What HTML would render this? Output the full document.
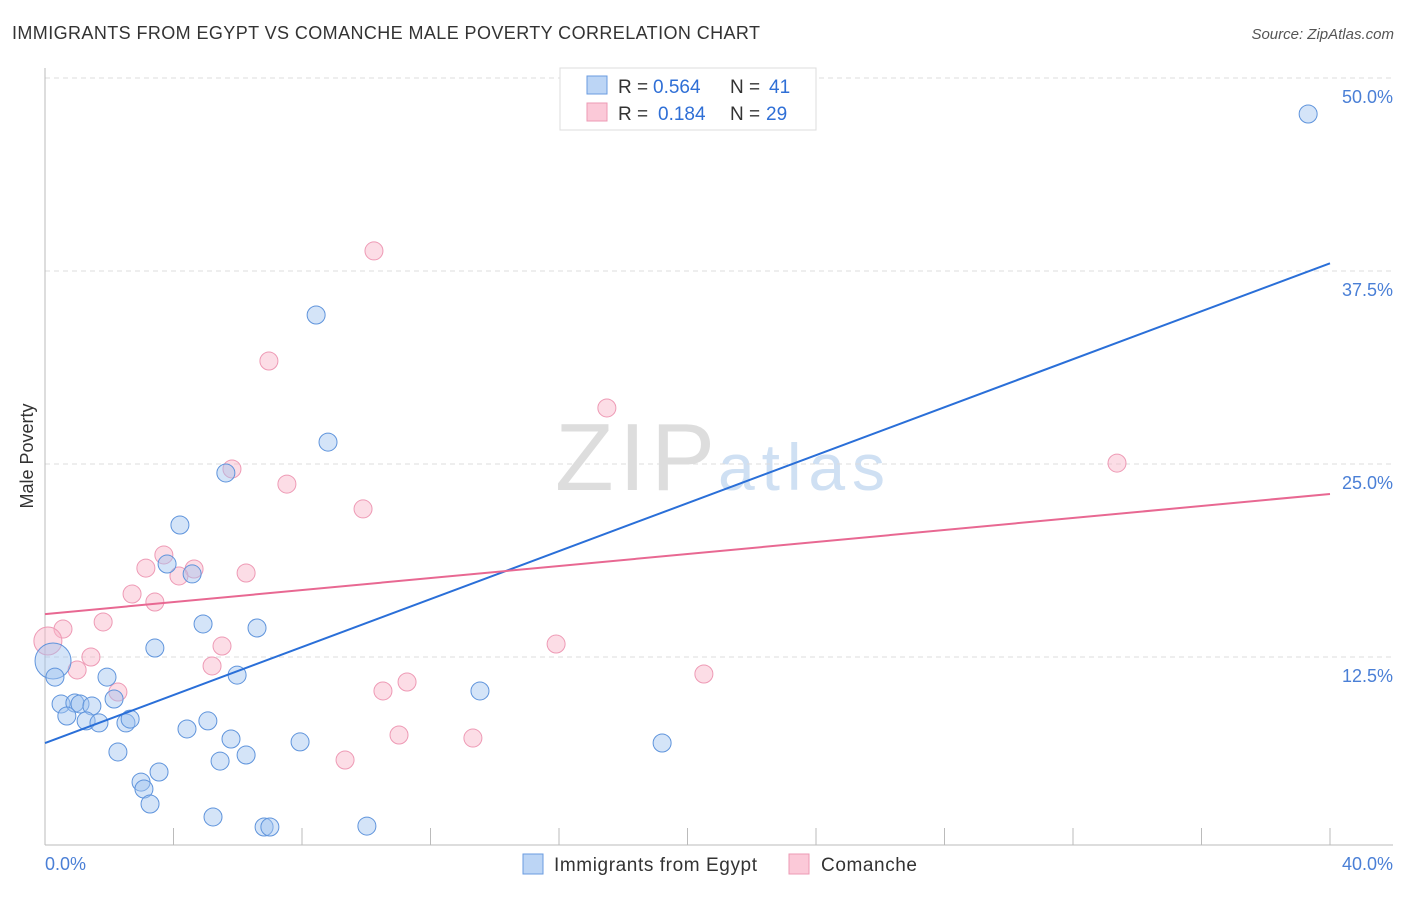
<!DOCTYPE html>
<html><head><meta charset="utf-8"><style>
body{margin:0;background:#fff;font-family:"Liberation Sans",sans-serif;}
svg text{font-family:"Liberation Sans",sans-serif;}
</style></head><body>
<svg id="chart" width="1406" height="892">
<text x="12" y="39" font-size="18" fill="#333" textLength="748">IMMIGRANTS FROM EGYPT VS COMANCHE MALE POVERTY CORRELATION CHART</text>
<text x="1394" y="39" font-size="15" fill="#555" font-style="italic" text-anchor="end">Source: ZipAtlas.com</text>
<text x="33" y="456" font-size="18" fill="#333" transform="rotate(-90 33 456)" text-anchor="middle">Male Poverty</text>
<text x="555" y="490" font-size="96" fill="#ddd" textLength="160" font-family="Liberation Serif">ZIP</text>
<text x="718" y="490" font-size="66" fill="#cfe0f3" textLength="167">atlas</text>
<g id="grid"></g>
<line x1="45" y1="68" x2="45" y2="845" stroke="#bbb"/>
<line x1="45" y1="845" x2="1393" y2="845" stroke="#bbb"/>
<g id="ticks"></g>
<g id="pts"></g>
<g id="lines"></g>
<text x="45" y="870" font-size="18" fill="#4a7fd6">0.0%</text>
<text x="1393" y="870" font-size="18" fill="#4a7fd6" text-anchor="end">40.0%</text>
<g>
<rect x="560" y="68" width="256" height="62" fill="#fff" stroke="#ddd"/>
<rect x="587" y="76" width="20" height="18" fill="#bcd5f5" stroke="#6a9be0"/>
<rect x="587" y="103" width="20" height="18" fill="#fbc9d8" stroke="#ec9ab4"/>
<text y="93" font-size="19" fill="#333"><tspan x="618">R =</tspan><tspan x="653" fill="#2f6fd6">0.564</tspan><tspan x="730">N =</tspan><tspan x="769" fill="#2f6fd6">41</tspan></text>
<text y="120" font-size="19" fill="#333"><tspan x="618">R =</tspan><tspan x="658" fill="#2f6fd6">0.184</tspan><tspan x="730">N =</tspan><tspan x="766" fill="#2f6fd6">29</tspan></text>
</g>
<g>
<rect x="523" y="854" width="20" height="20" fill="#bcd5f5" stroke="#6a9be0"/>
<text x="554" y="871" font-size="19" fill="#333" textLength="203">Immigrants from Egypt</text>
<rect x="789" y="854" width="20" height="20" fill="#fbc9d8" stroke="#ec9ab4"/>
<text x="821" y="871" font-size="19" fill="#333" textLength="96">Comanche</text>
</g>
</svg>
<script>
const yTicks=[12.5,25,37.5,50];
const yTickLabels=["12.5%","25.0%","37.5%","50.0%"];
const xTicks=[4,8,12,16,20,24,28,32,36,40];
const egyptX=[39.32,8.44,8.81,5.63,4.20,3.80,4.58,4.92,6.60,3.42,0.25,0.31,1.93,5.98,13.54,2.15,0.50,0.93,1.09,1.46,0.68,1.28,1.68,2.52,2.65,5.07,4.42,5.79,7.94,19.21,2.27,6.26,5.45,3.55,2.99,3.08,3.27,5.23,6.82,7.00,10.02];
const egyptY=[47.67,34.65,26.42,24.42,21.05,18.52,17.88,14.64,14.38,13.08,12.24,11.20,11.20,11.33,10.30,9.78,9.46,9.52,9.46,9.33,8.68,8.36,8.23,8.23,8.48,8.36,7.84,7.19,7.0,6.93,6.35,6.15,5.76,5.05,4.40,3.95,2.98,2.14,1.49,1.49,1.55];
const comX=[10.24,6.97,17.49,33.37,5.82,7.53,9.90,3.70,3.14,4.64,4.17,6.26,2.71,3.42,1.81,0.56,0.09,5.51,15.91,1.43,5.20,1.00,20.51,11.27,10.52,2.27,11.02,13.32,9.34];
const comY=[38.80,31.67,28.63,25.06,24.68,23.70,22.09,19.11,18.26,18.20,17.75,17.94,16.58,16.06,14.77,14.31,13.54,13.21,13.34,12.50,11.92,11.66,11.40,10.88,10.30,10.23,7.45,7.25,5.83];
const egyptTrend=[6.93,38.0];
const comTrend=[15.28,23.06];
const NS="http://www.w3.org/2000/svg";
const X=v=>45+v/40*1285, Y=v=>850-v/50*772;
function mk(t,a,p){const e=document.createElementNS(NS,t);for(const k in a)e.setAttribute(k,a[k]);p.appendChild(e);return e;}
const grid=document.getElementById('grid'),ticks=document.getElementById('ticks'),pts=document.getElementById('pts'),lines=document.getElementById('lines');
yTicks.forEach((v,i)=>{
 const l=mk('line',{x1:45,x2:1393,y1:Y(v),y2:Y(v),stroke:'#ddd','stroke-dasharray':'5,4'},grid);
 
 
 const t=mk('text',{x:1393,y:Y(v)+25,'font-size':18,fill:'#4a7fd6','text-anchor':'end'},grid);
 t.textContent=yTickLabels[i];
 
 
});
xTicks.forEach(v=>{
 const l=mk('line',{x1:X(v),x2:X(v),y1:828,y2:845,stroke:'#bbb'},ticks);
 
 
});
comX.forEach((v,i)=>{
 const c=mk('circle',{cx:X(v),cy:Y(comY[i]),r:i==16?14:9,fill:'rgba(248,180,200,0.45)',stroke:'#ee9ab5','stroke-width':1},pts);
 
 
});
egyptX.forEach((v,i)=>{
 const c=mk('circle',{cx:X(v),cy:Y(egyptY[i]),r:i==10?18:9,fill:'rgba(160,196,240,0.45)',stroke:'#5f94dc','stroke-width':1},pts);
 
 
});
const l1=mk('line',{x1:X(0),y1:Y(egyptTrend[0]),x2:X(40),y2:Y(egyptTrend[1]),stroke:'#2a6fd8','stroke-width':2},lines);


const l2=mk('line',{x1:X(0),y1:Y(comTrend[0]),x2:X(40),y2:Y(comTrend[1]),stroke:'#e86892','stroke-width':2},lines);


</script>
</body></html>
